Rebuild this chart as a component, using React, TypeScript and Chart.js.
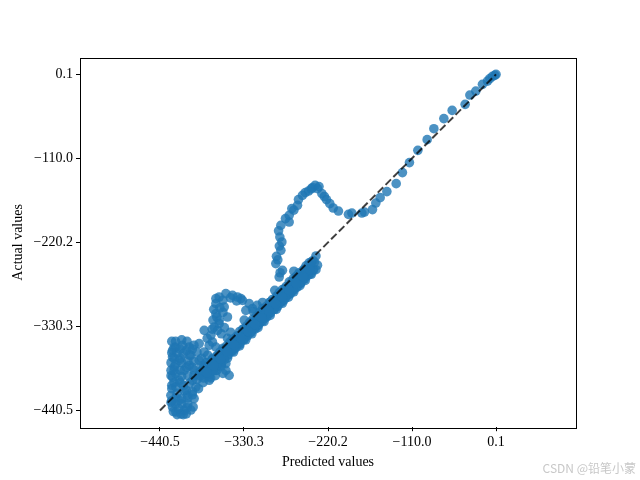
import React, { useEffect, useRef } from "react";
import { Chart, registerables } from "chart.js";

Chart.register(...registerables);

// Axis ticks
const tickValues = [-440.5, -330.35, -220.2, -110.05, 0.1];
const tickLabels = ["\u2212440.5", "\u2212330.3", "\u2212220.2", "\u2212110.0", "0.1"];

// Axis limits (equal aspect, as in the reference)
const xMin = -545.35;
const xMax = 104.95;
const yMin = -462.5;
const yMax = 22.1;

// Diagonal reference line
const diagX = [-440.5, 0.1];
const diagY = [-440.5, 0.1];

// Upper tail (near zero down to the hump)
const tailPred = [0.1, -1.5, -4.6, -8.0, -11.1, -17.7, -26.4, -34.2, -40.4, -57.4, -68.3, -81.4, -90.2, -102.4, -113.4, -122.6, -130.8, -143.0, -151.8, -157.5, -161.9, -172.4, -175.8, -188.9, -193.4, -206.5, -213.4, -217.8, -222.2, -228.2, -234.0, -237.0, -240.6, -245.8, -253.7, -258.9, -260.2, -267.6, -271.1, -271.1, -282.0, -283.3, -280.7, -282.0, -287.8, -288.6, -279.9, -284.2, -276, -265, -250, -242, -232, -225, -285, -284, -286, -283];
const tailActual = [0.1, -1.2, -2.5, -5.5, -8.7, -13.0, -21.8, -27.0, -39.2, -47.1, -57.9, -71.1, -85.5, -99.5, -115.6, -128.7, -143.2, -153.6, -161.5, -168.6, -177.2, -180.4, -181.7, -181.7, -183.4, -179.1, -175.1, -169.4, -164.1, -156.3, -149.7, -145.4, -148.4, -152.9, -158.5, -164.1, -171.6, -175.9, -184.7, -193.5, -197.8, -213.2, -219.7, -230.6, -238.5, -248.0, -256.8, -265.6, -189, -178, -155, -150, -147, -160, -205, -225, -243, -260];

// Left hump
const humpPred = [-354.1, -362.9, -345.4, -338.9, -334.4, -332.3, -323.6, -319.2, -327.9, -367.2, -367.2, -356.3, -367.2, -352.0, -362.9, -362.9, -369.4, -365.1, -373.8, -371.7, -367.2, -313.1, -306.5, -382.5, -378.6, -358, -348, -340, -362, -370, -358, -366, -371, -360, -356, -352, -348, -372];
const humpActual = [-287.4, -291.8, -289.6, -291.8, -293.9, -296.2, -300.5, -307.0, -309.3, -293.9, -300.5, -304.9, -313.6, -318.0, -322.4, -326.7, -331.2, -335.5, -342.0, -350.8, -357.4, -302.7, -311.9, -335.5, -346.0, -296, -293, -297, -306, -308, -312, -318, -322, -340, -332, -346, -338, -334];

// Lower cluster
const lowPred = [-419.7, -411.0, -402.2, -400.0, -424.1, -421.9, -424.1, -419.7, -426.2, -424.1, -419.7, -408.8, -395.7, -393.4, -397.9, -384.8, -376.0, -354.1, -354.1, -389.1, -382.5, -415.3, -408.8, -415.3, -408.8, -415.3, -402.2, -389.1, -395.7, -369.4, -362.9, -382.5, -404.8, -376.0, -349.8, -425.0, -426.0, -424.0, -376.0, -413.0, -426.0, -404.0, -398.0, -410.0, -418.0,
  -425, -420, -412, -405, -396, -425, -418, -410, -402, -392, -426, -420, -412, -404, -396, -386, -378, -372, -426, -420, -412, -404, -396, -386, -380, -366, -360, -358, -425, -418, -410, -402, -392, -425, -420, -412, -404, -397, -423, -416, -406, -400, -368, -374, -384, -390, -390,
  -422, -414, -406, -398, -422, -414, -406, -398, -422, -414, -422, -414, -406, -398, -420, -412, -405, -388, -380, -370];
const lowActual = [-357.4, -355.1, -357.4, -368.3, -370.5, -383.6, -396.7, -409.8, -420.7, -436.0, -442.6, -440.4, -425.0, -409.8, -401.0, -392.3, -401.0, -387.9, -379.1, -352.9, -363.9, -374.8, -387.9, -401.0, -414.1, -427.3, -381.4, -374.8, -387.9, -381.4, -374.8, -381.4, -420.7, -390.6, -394.5, -407.6, -387.9, -361.7, -355.1, -445.0, -430.0, -432.0, -416.0, -446.0, -446.0,
  -350, -350, -348, -350, -355, -365, -365, -366, -368, -364, -378, -380, -378, -376, -376, -372, -368, -374, -395, -392, -396, -395, -395, -382, -386, -388, -382, -392, -412, -418, -408, -405, -400, -428, -432, -425, -424, -436, -442, -438, -445, -440, -395, -398, -404, -412, -395,
  -358, -360, -362, -360, -372, -372, -384, -384, -388, -388, -404, -404, -414, -420, -424, -432, -437, -390, -378, -382];

// Main band along the diagonal
const bandAPred = [-236, -240, -245, -249, -253, -258, -262, -266, -271, -275, -280, -284, -288, -293, -297, -301, -306, -310, -314, -319, -323, -327, -332, -336, -340, -345, -349, -353, -358, -362, -366, -371, -375, -380, -384, -388];
const bandAActual = [-238, -244, -247, -251, -257, -260, -265, -268, -272, -278, -282, -286, -291, -295, -299, -304, -307, -312, -317, -321, -325, -330, -334, -337, -343, -347, -351, -356, -359, -364, -369, -372, -377, -383, -386, -391];
const bandBPred = [-234, -239, -243, -248, -252, -256, -261, -265, -269, -274, -278, -283, -287, -291, -296, -300, -304, -309, -313, -317, -322, -326, -330, -335, -339, -343, -348, -352, -357, -361, -365, -369, -374, -378, -383];
const bandBActual = [-250, -256, -261, -264, -268, -274, -278, -282, -287, -290, -296, -299, -304, -308, -312, -317, -320, -325, -330, -333, -338, -342, -347, -351, -354, -360, -363, -368, -372, -377, -381, -385, -390, -394, -398];
const bandCPred = [-236, -242, -250, -257, -265, -272, -280, -288, -296, -304, -312, -320, -328, -336, -344, -352, -360, -368, -376];
const bandCActual = [-256, -262, -270, -277, -285, -292, -300, -308, -316, -324, -332, -340, -348, -356, -364, -372, -380, -388, -396];
const bandDPred = [-238, -243, -247, -252, -256, -261, -265, -270, -274, -279, -283, -288, -292, -297, -301, -306, -310, -315, -319, -324, -328, -333, -337, -342, -346, -351, -355, -360, -364, -369, -373, -378, -382, -387];
const bandDActual = [-246, -250, -256, -259, -265, -268, -274, -277, -283, -287, -290, -297, -299, -305, -310, -313, -319, -322, -328, -331, -337, -340, -346, -349, -354, -359, -363, -368, -372, -377, -381, -386, -390, -395];
const bandEPred = [-240, -246, -251, -256, -261, -266, -271, -276, -281, -286, -291, -296, -301, -306, -311, -316, -321, -326, -331, -336, -341, -346, -351, -356, -361, -366, -371];
const bandEActual = [-257, -263, -268, -273, -279, -283, -288, -293, -298, -304, -308, -313, -318, -323, -328, -334, -338, -343, -348, -354, -358, -363, -368, -374, -378, -383, -388];
const bandFPred = [-242, -251, -260, -268, -277, -286, -295, -303, -312, -321, -330, -338, -347, -356, -365, -374, -383];
const bandFActual = [-246, -255, -263, -273, -281, -290, -298, -308, -316, -325, -333, -343, -351, -360, -369, -378, -388];
const bandGPred = [-244, -253, -262, -271, -280, -289, -298, -307, -316, -325, -334, -343, -352, -361, -370, -379];
const bandGActual = [-256, -265, -274, -283, -292, -301, -310, -319, -328, -337, -346, -355, -364, -373, -382, -391];
const bandUpPred = [-330, -318, -306, -290, -265];
const bandUpActual = [-322, -311, -299, -283, -258];

const predicted = [...tailPred, ...humpPred, ...lowPred, ...bandAPred, ...bandBPred, ...bandCPred, ...bandDPred, ...bandEPred, ...bandFPred, ...bandGPred, ...bandUpPred];
const actual = [...tailActual, ...humpActual, ...lowActual, ...bandAActual, ...bandBActual, ...bandCActual, ...bandDActual, ...bandEActual, ...bandFActual, ...bandGActual, ...bandUpActual];

const FONT = "'Liberation Serif', 'Times New Roman', serif";

const framePlugin = {
  id: "frame",
  afterDraw(chart: any) {
    const { ctx, chartArea } = chart;
    const { left, top, right, bottom } = chartArea;
    ctx.save();
    ctx.strokeStyle = "#000";
    ctx.lineWidth = 1;
    ctx.strokeRect(Math.round(left) + 0.5, Math.round(top) + 0.5, Math.round(right - left), Math.round(bottom - top));
    ctx.font = "12px 'Noto Sans CJK SC', sans-serif";
    ctx.fillStyle = "#c8c8c8";
    ctx.textAlign = "right";
    ctx.textBaseline = "middle";
    ctx.fillText("CSDN @铅笔小蒙", 636, 468);
    ctx.restore();
  },
};

export default function App() {
  const ref = useRef<HTMLCanvasElement | null>(null);
  useEffect(() => {
    document.body.style.margin = "0";
    const canvas = ref.current!;
    const font = { family: FONT, size: 14 };
    const chart = new Chart(canvas, {
      type: "scatter",
      data: {
        datasets: [
          {
            type: "line",
            data: diagX.map((x, i) => ({ x, y: diagY[i] })),
            borderColor: "rgba(0,0,0,0.75)",
            borderWidth: 2,
            borderDash: [7.7, 3.3],
            pointRadius: 0,
            fill: false,
            order: 0,
          } as any,
          {
            data: predicted.map((x, i) => ({ x, y: actual[i] })),
            backgroundColor: "rgba(31,119,180,0.8)",
            borderWidth: 0,
            pointRadius: 4.8,
            order: 1,
          },
        ],
      },
      options: {
        responsive: false,
        animation: false,
        devicePixelRatio: 1,
        layout: { padding: { top: 57.6, right: 64, left: 0, bottom: 0 } },
        plugins: { legend: { display: false }, tooltip: { enabled: false } },
        scales: {
          x: {
            type: "linear",
            min: xMin,
            max: xMax,
            afterBuildTicks: (s: any) => {
              s.ticks = tickValues.map((v) => ({ value: v }));
            },
            afterFit: (s: any) => {
              s.height = 52.8;
            },
            ticks: {
              callback: (_v: any, i: number) => tickLabels[i],
              color: "#000",
              font,
              padding: 3,
              maxRotation: 0,
              autoSkip: false,
            },
            grid: { drawOnChartArea: false, drawTicks: true, tickLength: 4, color: "#000", lineWidth: 1 },
            border: { display: false },
            title: { display: true, text: "Predicted values", color: "#000", font, padding: { top: 0, bottom: 9.6 } },
          },
          y: {
            type: "linear",
            min: yMin,
            max: yMax,
            afterBuildTicks: (s: any) => {
              s.ticks = tickValues.map((v) => ({ value: v }));
            },
            afterFit: (s: any) => {
              s.width = 80;
            },
            ticks: {
              callback: (_v: any, i: number) => tickLabels[i],
              color: "#000",
              font,
              padding: 3,
              autoSkip: false,
            },
            grid: { drawOnChartArea: false, drawTicks: true, tickLength: 4, color: "#000", lineWidth: 1 },
            border: { display: false },
            title: { display: true, text: "Actual values", color: "#000", font, padding: { top: 9.6, bottom: 0 } },
          },
        },
      },
      plugins: [framePlugin],
    });
    return () => chart.destroy();
  }, []);
  return <canvas ref={ref} width={640} height={480} style={{ display: "block" }} />;
}
